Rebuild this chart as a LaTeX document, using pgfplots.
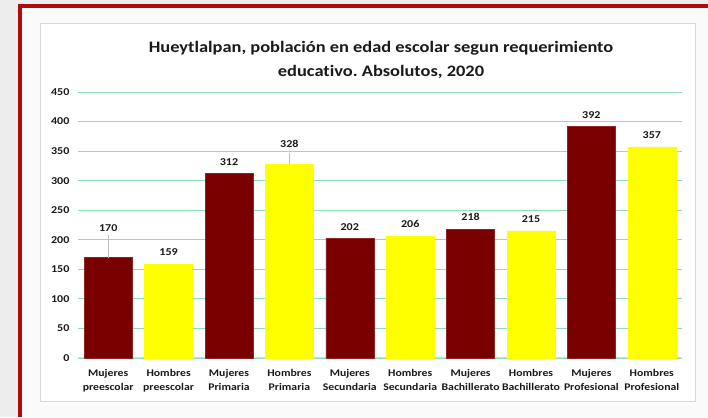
\documentclass[border=0pt]{standalone}
\usepackage{fontspec}
\setmainfont{Carlito}[FakeStretch=1.15, Ligatures=NoCommon]
\usepackage{pgfplots}
\pgfplotsset{compat=1.18}
\frenchspacing
\definecolor{darkred}{HTML}{7A0000}
\definecolor{ylw}{HTML}{FFFF00}
\definecolor{gridg}{HTML}{8FDDB8}
\definecolor{frame}{HTML}{B00A0A}
\definecolor{boxb}{HTML}{D9D9D9}
\definecolor{txt}{HTML}{1A1A1A}
\begin{document}
\begin{tikzpicture}[x=1pt,y=1pt]
\fill[black!7] (0,0) rectangle (708,417);
\fill[black!2] (20,0) rectangle (708,411);
\fill[frame] (18,0) rectangle (22,413);
\fill[frame] (18,409) rectangle (708,413);
\filldraw[fill=white, draw=boxb, line width=1pt] (40,16) rectangle (695,393);
\node[font=\bfseries\fontsize{16}{19}\selectfont, text=txt] at (381,369) {Hueytlalpan, población en edad escolar segun requerimiento};
\node[font=\bfseries\fontsize{16}{19}\selectfont, text=txt] at (381,345) {educativo.\ Absolutos, 2020};
\begin{axis}[
  at={(78pt,59pt)}, anchor=south west,
  scale only axis, width=604pt, height=266pt,
  xmin=-0.5, xmax=9.5, ymin=0, ymax=450,
  ytick={0,50,...,450},
  xtick={0,...,9},
  xticklabels={{Mujeres\\preescolar},{Hombres\\preescolar},{Mujeres\\Primaria},{Hombres\\Primaria},{Mujeres\\Secundaria},{Hombres\\Secundaria},{Mujeres\\Bachillerato},{Hombres\\Bachillerato},{Mujeres\\Profesional},{Hombres\\Profesional}},
  axis line style={draw=none},
  major tick length=0pt,
  ymajorgrids, grid style={gridg, line width=0.9pt},
  /pgf/number format/assume math mode=true,
  yticklabel style={font=\bfseries\fontsize{10.5}{12}\selectfont, text=txt, xshift=-5pt},
  xticklabel style={font=\bfseries\fontsize{10.2}{14}\selectfont, text=txt, align=center, yshift=-8pt},
  clip=false,
]
\addplot[boxb, line width=1pt] coordinates {(-0.5,0) (9.5,0)};
\addplot[ybar, bar shift=0pt, bar width=48pt, fill=darkred, draw=darkred!85!white] coordinates {(0,170) (2,312) (4,202) (6,218) (8,392)};
\addplot[ybar, bar shift=0pt, bar width=48pt, fill=ylw, draw=ylw] coordinates {(1,159) (3,328) (5,206) (7,215) (9,357)};
\addplot[black!25, line width=0.8pt] coordinates {(0,170) (0,208)};
\addplot[black!25, line width=0.8pt] coordinates {(3,328) (3,347)};
\addplot[draw=none, mark=none, nodes near coords, point meta=explicit symbolic,
  nodes near coords style={anchor=south, inner sep=0pt, yshift=8pt, font=\bfseries\fontsize{10.5}{12}\selectfont, text=txt}]
  coordinates {(1,159)[159] (2,312)[312] (4,202)[202] (5,206)[206] (6,218)[218] (7,215)[215] (8,392)[392] (9,357)[357]};
\addplot[draw=none, mark=none, nodes near coords, point meta=explicit symbolic,
  nodes near coords style={anchor=center, inner sep=0pt, font=\bfseries\fontsize{10.5}{12}\selectfont, text=txt}]
  coordinates {(0,220)[170] (3,362)[328]};
\end{axis}
\end{tikzpicture}
\end{document}
